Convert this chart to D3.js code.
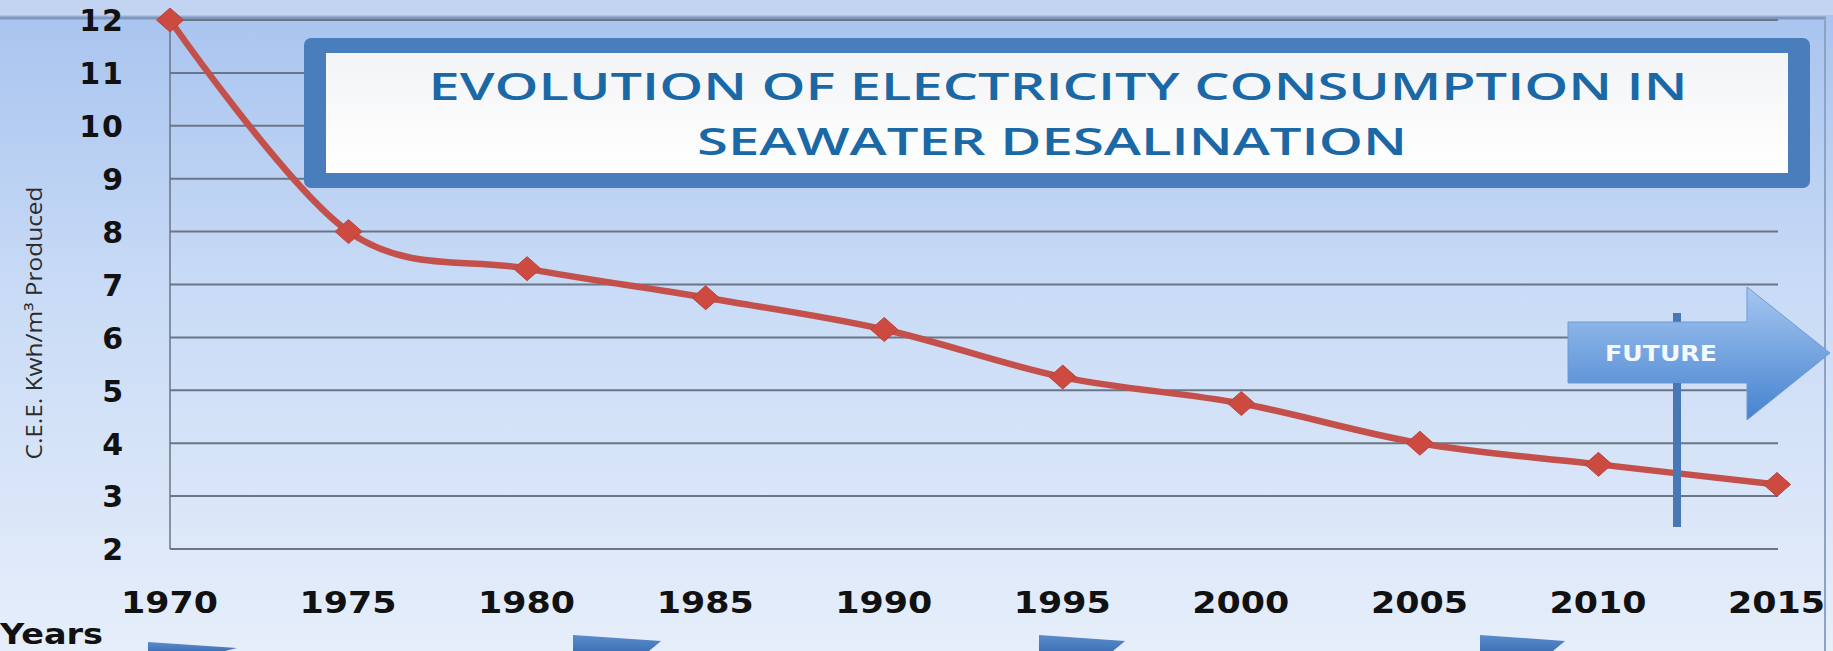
<!DOCTYPE html>
<html><head><meta charset="utf-8">
<script src="https://cdn.jsdelivr.net/npm/d3@7"></script>
<style>html,body{margin:0;padding:0;overflow:hidden;background:#d6e3f7}</style>
</head><body>
<svg id="c" width="1833" height="651"></svg>
<script>
// ---- data ----
const years = [1970, 1975, 1980, 1985, 1990, 1995, 2000, 2005, 2010, 2015];
const cee = [12, 8.0, 7.3, 6.75, 6.15, 5.25, 4.75, 4.0, 3.6, 3.22];
const yTicks = [2, 3, 4, 5, 6, 7, 8, 9, 10, 11, 12];
const titleLines = ["EVOLUTION OF ELECTRICITY  CONSUMPTION IN", "SEAWATER DESALINATION"];
const yTitle = "C.E.E. Kwh/m\u00B3 Produced";
const xTitle = "Years";
const futureLabel = "FUTURE";
const futureYear = 2012.2;

const svg = d3.select("#c");
const W = 1833, H = 651;
const x = d3.scaleLinear().domain([1970, 2015]).range([170, 1777]);
const y = d3.scaleLinear().domain([2, 12]).range([549, 20]);

const defs = svg.append("defs");
const bg = defs.append("linearGradient").attr("id", "bg").attr("x1", 0).attr("y1", 0).attr("x2", 0).attr("y2", 1);
bg.append("stop").attr("offset", "0").attr("stop-color", "#a7c3ef");
bg.append("stop").attr("offset", "0.45").attr("stop-color", "#c9dbf6");
bg.append("stop").attr("offset", "1").attr("stop-color", "#e6eefa");
const ag = defs.append("linearGradient").attr("id", "ag").attr("x1", 0).attr("y1", 0).attr("x2", 0).attr("y2", 1);
ag.append("stop").attr("offset", "0").attr("stop-color", "#a6c6f0");
ag.append("stop").attr("offset", "1").attr("stop-color", "#4583d0");
const wg = defs.append("linearGradient").attr("id", "wg").attr("x1", 0).attr("y1", 0).attr("x2", 0).attr("y2", 1);
wg.append("stop").attr("offset", "0").attr("stop-color", "#f3f4f6");
wg.append("stop").attr("offset", "1").attr("stop-color", "#ffffff");
const fg = defs.append("linearGradient").attr("id", "fg").attr("x1", 0).attr("y1", 0).attr("x2", 0).attr("y2", 1);
fg.append("stop").attr("offset", "0").attr("stop-color", "#5b8ccc");
fg.append("stop").attr("offset", "1").attr("stop-color", "#3f72b8");

// background
svg.append("rect").attr("width", W).attr("height", H).attr("fill", "url(#bg)");
svg.append("rect").attr("width", W).attr("height", 15).attr("fill", "#c2d4f1");
// frame
svg.append("line").attr("x1", 0).attr("x2", 1826).attr("y1", 18).attr("y2", 18)
  .attr("stroke", "#8397b8").attr("stroke-width", 3);
svg.append("line").attr("x1", 1825).attr("x2", 1825).attr("y1", 18).attr("y2", H)
  .attr("stroke", "#8ea2c4").attr("stroke-width", 2);

// gridlines
svg.append("g").selectAll("line").data(yTicks).join("line")
  .attr("x1", x(1970)).attr("x2", x(2015) + 1)
  .attr("y1", d => y(d)).attr("y2", d => y(d))
  .attr("stroke", "#6a7585").attr("stroke-width", 2);
// y axis line
svg.append("line").attr("x1", x(1970)).attr("x2", x(1970)).attr("y1", y(12)).attr("y2", y(2))
  .attr("stroke", "#6a7585").attr("stroke-width", 1.5);

// y tick labels
const yAxis = d3.axisLeft(y).tickValues(yTicks).tickSize(0).tickPadding(45).tickFormat(d3.format("d"));
const gy = svg.append("g").attr("transform", `translate(${x(1970)},0)`).call(yAxis);
gy.select(".domain").remove();
gy.selectAll("text").attr("font-family", "DejaVu Sans").attr("font-weight", "bold")
  .attr("font-size", 30).attr("fill", "#111").attr("letter-spacing", 2).attr("dy", "0.36em");

// x tick labels
const xAxis = d3.axisBottom(x).tickValues(years).tickSize(0).tickPadding(0).tickFormat(d3.format("d"));
const gx = svg.append("g").attr("transform", `translate(0,${y(2)})`).call(xAxis);
gx.select(".domain").remove();
gx.selectAll("text").attr("font-family", "DejaVu Sans").attr("font-weight", "bold")
  .attr("font-size", 30).attr("fill", "#111")
  .attr("textLength", 97).attr("lengthAdjust", "spacingAndGlyphs")
  .attr("dy", null).attr("y", 64).attr("dx", -1);

// axis titles
svg.append("text").attr("x", 0).attr("y", 644).text(xTitle)
  .attr("font-family", "DejaVu Sans").attr("font-weight", "bold").attr("font-size", 29)
  .attr("fill", "#111").attr("textLength", 103).attr("lengthAdjust", "spacingAndGlyphs");
svg.append("text").attr("transform", "translate(42,323) rotate(-90)")
  .attr("text-anchor", "middle").text(yTitle)
  .attr("font-family", "Open Sans").attr("font-size", 21).attr("fill", "#2b2b2b")
  .attr("textLength", 273).attr("lengthAdjust", "spacingAndGlyphs");

// series line
const pts = years.map((yr, i) => [x(yr), y(cee[i])]);
svg.append("path").datum(pts)
  .attr("d", d3.line().curve(d3.curveCardinal.tension(0)))
  .attr("fill", "none").attr("stroke", "#c4504b").attr("stroke-width", 6.5)
  .attr("stroke-linejoin", "round");
// markers (diamonds)
svg.append("g").selectAll("path").data(pts).join("path")
  .attr("d", d => `M${d[0] - 13.5},${d[1]}L${d[0]},${d[1] - 12}L${d[0] + 13.5},${d[1]}L${d[0]},${d[1] + 12}Z`)
  .attr("fill", "#cc4a40").attr("stroke", "#b6443e").attr("stroke-width", 1);

// title box
svg.append("rect").attr("x", 304).attr("y", 38).attr("width", 1506).attr("height", 150)
  .attr("rx", 7).attr("fill", "#4a7dbb");
svg.append("rect").attr("x", 326).attr("y", 53).attr("width", 1462).attr("height", 120)
  .attr("fill", "url(#wg)");
const tl = [{t: titleLines[0], cx: 1058, by: 100, len: 1259}, {t: titleLines[1], cx: 1052, by: 155, len: 710}];
svg.append("g").selectAll("text").data(tl).join("text")
  .attr("x", d => d.cx).attr("y", d => d.by).attr("text-anchor", "middle")
  .text(d => d.t).attr("font-family", "Open Sans").attr("font-weight", 600)
  .attr("font-size", 38).attr("fill", "#1b68a6")
  .attr("textLength", d => d.len).attr("lengthAdjust", "spacingAndGlyphs");

// FUTURE sign post
const fx = x(futureYear);
svg.append("rect").attr("x", fx - 4).attr("y", 313).attr("width", 8).attr("height", 214)
  .attr("fill", "#4877b6");
svg.append("path")
  .attr("d", `M1568,322H1747V287L1830,353L1747,420V383H1568Z`)
  .attr("fill", "url(#ag)").attr("stroke", "#6f9ad3").attr("stroke-width", 1);
svg.append("rect").attr("x", fx - 4).attr("y", 383).attr("width", 8).attr("height", 10).attr("fill", "#4877b6");
svg.append("text").attr("x", 1661).attr("y", 361).attr("text-anchor", "middle").text(futureLabel)
  .attr("font-family", "DejaVu Sans").attr("font-weight", "bold").attr("font-size", 21)
  .attr("fill", "#f4f8ff").attr("textLength", 112).attr("lengthAdjust", "spacingAndGlyphs");

// bottom decorative flags (cut off at bottom edge)
const flags = [[148, 642, 89], [573, 635, 88], [1039, 635, 86], [1480, 635, 85]];
svg.append("g").selectAll("path").data(flags).join("path")
  .attr("d", d => `M${d[0]},${d[1]}L${d[0] + d[2]},${d[1] + 6}L${d[0] + d[2] - 12},${H}L${d[0]},${H}Z`)
  .attr("fill", "url(#fg)");
</script>
</body></html>
